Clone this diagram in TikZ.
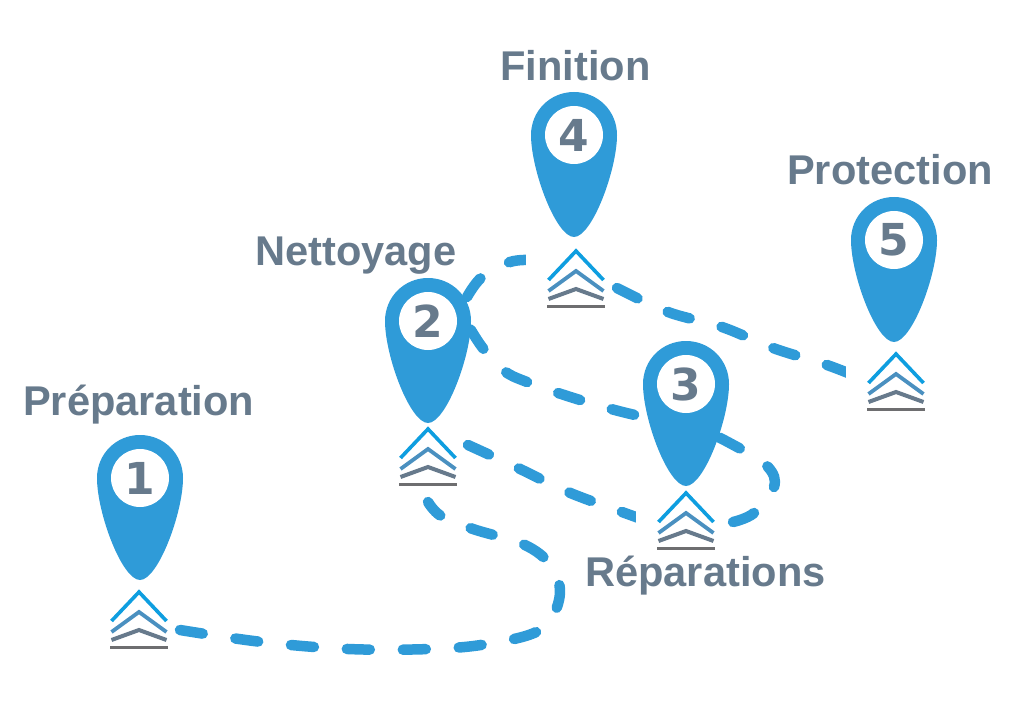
\documentclass[tikz,border=0pt]{standalone}
\usepackage{fontspec}
\setmainfont{Liberation Sans}
\newfontfamily\digitfont{DejaVu Sans}
\definecolor{pinblue}{HTML}{2F9BD8}
\definecolor{slate}{HTML}{677A8C}
\definecolor{chevtop}{HTML}{0E9EE0}
\definecolor{chevmid}{HTML}{4A90C0}
\definecolor{chevbar}{HTML}{6E6E70}
\tikzset{
	pinshape/.style={fill=pinblue,draw=none},
	route/.style={draw=pinblue,line width=10.5pt,line cap=round,dash pattern=on 23pt off 33pt},
	steplabel/.style={text=slate,font=\bfseries\fontsize{41.6}{42}\selectfont,anchor=base west,inner sep=0pt},
	stepnum/.style={circle,fill=white,minimum size=58pt,inner sep=0pt,text=slate,font=\digitfont\bfseries\fontsize{44}{44}\selectfont},
	pics/pin/.style={code={
		\fill[pinshape] (0,-43) .. controls (24,-43) and (43,-24) .. (43,0)
			.. controls (43,35) and (18,102) .. (0,102)
			.. controls (-18,102) and (-43,35) .. (-43,0)
			.. controls (-43,-24) and (-24,-43) .. (0,-43) -- cycle;
	}},
	pics/chevrons/.style={code={
		\fill[white] (-50,-4) rectangle (34,62);
		\draw[line width=3.6pt,color=chevtop] (-27.5,29) -- (0,0) -- (27.5,29);
		\draw[line width=3.8pt,color=chevmid] (-27.5,40) -- (0,20) -- (27.5,40);
		\draw[line width=4pt,color=slate] (-27.5,48) -- (0,38) -- (27.5,48);
		\draw[line width=3.8pt,color=chevbar] (-29,55.5) -- (29,55.5);
	}}
}
\begin{document}
\begin{tikzpicture}[x=1pt,y=-1pt]
	\useasboundingbox (0,0) rectangle (1024,727);

	% pin and chevron places
	\coordinate (pin1) at (140,478);
	\coordinate (pin2) at (428,321);
	\coordinate (pin3) at (686,384);
	\coordinate (pin4) at (574,135);
	\coordinate (pin5) at (894,240);
	\coordinate (chev1) at (139,592);
	\coordinate (chev2) at (428,429);
	\coordinate (chev3) at (686,493);
	\coordinate (chev4) at (576,251);
	\coordinate (chev5) at (896,354);

	% dashed routes
	\draw[route] plot[smooth,tension=0.6] coordinates {(180,630) (262,642) (348,649) (430,649) (487,644) (540,630) (559,600) (554,570) (527,546) (473,529) (441,516) (428,502)};
	\draw[route] plot[smooth,tension=0.6] coordinates {(468,445) (518,468) (568,492) (622,512) (650,522)};
	\draw[route] plot[smooth,tension=0.6] coordinates {(733,522) (754,513) (774,487) (768,467) (739,448) (690,425) (635,415) (580,400) (527,382) (503,370) (482,347) (465,320)};
	\draw[route] plot[smooth,tension=0.6] coordinates {(467,297) (482,277) (510,262) (533,260)};
	\draw[route] plot[smooth,tension=0.6] coordinates {(617,288) (668,312) (722,327) (773,348) (827,365) (860,378)};

	\foreach \n in {1,...,5} {
		\pic at (pin\n) {pin};
		\pic at (chev\n) {chevrons};
		\node[stepnum] (num\n) at (pin\n) {\n};
	}

	\node[steplabel] (prep) at (23,415) {Préparation};
	\node[steplabel] (nett) at (255,265) {Nettoyage};
	\node[steplabel] (repa) at (585,586) {Réparations};
	\node[steplabel] (fini) at (500,81) {Finition};
	\node[steplabel] (prot) at (787,185) {Protection};
\end{tikzpicture}
\end{document}
